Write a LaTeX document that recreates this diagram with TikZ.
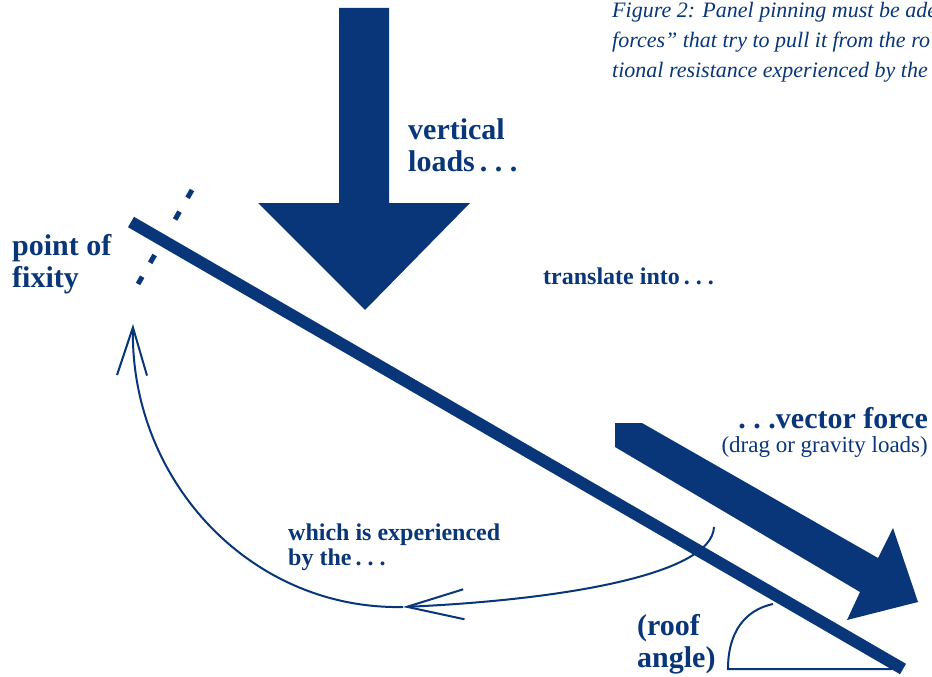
\documentclass[tikz,border=0pt]{standalone}
\usepackage{fontspec}
\setmainfont{Liberation Serif}
\usetikzlibrary{arrows.meta}
\definecolor{roofblue}{RGB}{8,54,120}
\tikzset{
  bigtext/.style={text=roofblue, font=\bfseries\fontsize{30}{32}\selectfont, align=left, inner sep=0pt},
  midtext/.style={text=roofblue, font=\bfseries\fontsize{24}{25}\selectfont, align=left, inner sep=0pt},
  plaintext/.style={text=roofblue, font=\fontsize{23}{25}\selectfont, inner sep=0pt},
  captext/.style={text=roofblue, font=\itshape\fontsize{22}{30}\selectfont, align=left, inner sep=0pt},
  solid arrow/.style={fill=roofblue, draw=none},
  beam/.style={draw=roofblue, line width=12pt},
  fixline/.style={draw=roofblue, line width=5pt, dash pattern=on 9pt off 16pt on 9pt off 41pt on 9pt off 16pt on 9pt off 10pt},
  flow/.style={draw=roofblue, line width=2pt, -{Straight Barb[length=#1, width=30pt, line width=2pt]}},
  thin line/.style={draw=roofblue, line width=2pt}
}

\begin{document}
\begin{tikzpicture}[x=1pt, y=-1pt]
  \useasboundingbox (0,0) rectangle (932,677);
  \clip (0,0) rectangle (932,677);

  \coordinate (BTOP) at (131,222);
  \coordinate (BEND) at (903,669);
  \coordinate (FIXA) at (192,190);
  \coordinate (FIXB) at (138,284);
  \coordinate (CSTART) at (714,527);
  \coordinate (CMID) at (403,607);
  \coordinate (CTIP) at (133,324);
  \coordinate (ALEFT) at (728,669);
  \coordinate (ARIGHT) at (892,669);
  \coordinate (AUP) at (773,604);

  \fill[solid arrow] (339,8) -- (389,8) -- (389,203) -- (470,203) -- (365,310)
    -- (258,203) -- (339,203) -- cycle;
  \fill[solid arrow] (615,423) -- (642,423) -- (878,558) -- (893,528) -- (918,602)
    -- (847,620) -- (860,592) -- (615,447) -- cycle;

  \draw[beam] (BTOP) -- (BEND);
  \draw[fixline] (FIXA) -- (FIXB);

  \draw[flow=57pt] (CSTART) .. controls (712,575) and (560,600) .. (CMID);
  \draw[flow=48pt] (CMID) .. controls (250,610) and (130,480) .. (CTIP);

  \draw[thin line] (ARIGHT) -- (ALEFT) .. controls (728,632) and (745,610) .. (AUP);

  \node[bigtext, anchor=north west] (VLOAD) at (408,118) {vertical\\loads\,.\ .\ .};
  \node[bigtext, anchor=north west] (FIXITY) at (12,234) {point of\\fixity};
  \node[midtext, anchor=north west] (TRANS) at (543,268) {translate into\,.\ .\ .};
  \node[bigtext, anchor=base east] (VFORCE) at (928,428) {.\ .\ .vector force};
  \node[plaintext, anchor=base east] (DRAG) at (928,452) {(drag or gravity loads)};
  \node[midtext, anchor=north west] (EXPER) at (288,524) {which is experienced\\by the\,.\ .\ .};
  \node[bigtext, anchor=north west] (ROOF) at (637,614) {(roof\\angle)};
  \node[captext, anchor=north west] (CAPTION) at (612,2)
    {Figure 2: Panel pinning must be ade\\forces" that try to pull it from the ro\\tional resistance experienced by the p};
\end{tikzpicture}
\end{document}
